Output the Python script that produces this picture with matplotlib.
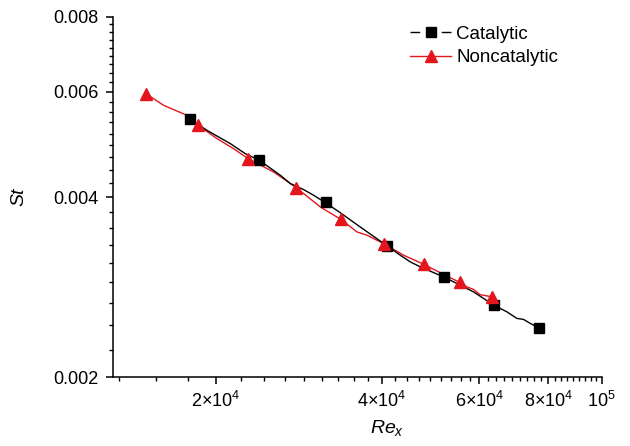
import matplotlib
matplotlib.use("Agg")
import matplotlib.pyplot as plt
from matplotlib.ticker import FixedLocator, MultipleLocator, NullFormatter
from matplotlib.lines import Line2D

plt.rcParams['font.family'] = ['Liberation Sans', 'DejaVu Sans']
plt.rcParams['mathtext.fontset'] = 'custom'
plt.rcParams['mathtext.rm'] = 'Liberation Sans'
plt.rcParams['mathtext.it'] = 'Liberation Sans:italic'
plt.rcParams['mathtext.default'] = 'regular'

# Catalytic wall: continuous profile and marked stations
cat_curve_re = [17970, 19260, 21230, 22600, 23960, 26160, 27270, 28820, 30050,
                31550, 33590, 36510, 40810, 43150, 44980, 46900, 51680, 54660,
                58580, 61070, 63670, 67330, 70200, 72150, 74210, 76950, 78450]
cat_curve_st = [0.005396, 0.005174, 0.004916, 0.004730, 0.004611, 0.004353,
                0.004216, 0.004120, 0.004031, 0.003920, 0.003769, 0.003568,
                0.003320, 0.003201, 0.003120, 0.003061, 0.002945, 0.002871,
                0.002780, 0.002711, 0.002642, 0.002575, 0.002510, 0.002501,
                0.002463, 0.002421, 0.002414]
cat_re = [17970, 23960, 31600, 40820, 51690, 63680, 76950]
cat_st = [0.005396, 0.004616, 0.003924, 0.003318, 0.002943, 0.002642, 0.002421]

# Noncatalytic wall: continuous profile and marked stations
noncat_curve_re = [14930, 16070, 17720, 18550, 20080, 21520, 22860, 25440, 27960,
                   30900, 33700, 36010, 37550, 40240, 43750, 47550, 50980, 55260,
                   56990, 58580, 60230, 63250]
noncat_curve_st = [0.005957, 0.005696, 0.005481, 0.005279, 0.005012, 0.004822,
                   0.004640, 0.004408, 0.004151, 0.003854, 0.003672, 0.003501,
                   0.003457, 0.003348, 0.003201, 0.003092, 0.002993, 0.002884,
                   0.002834, 0.002806, 0.002750, 0.002728]
noncat_re = [14930, 18550, 22860, 27960, 33700, 40240, 47550, 55260, 63250]
noncat_st = [0.005955, 0.005279, 0.004640, 0.004151, 0.003672, 0.003336,
             0.003089, 0.002884, 0.002728]

x_ticks = [2e4, 4e4, 6e4, 8e4, 1e5]
x_tick_labels = ['2×10$^4$', '4×10$^4$', '6×10$^4$', '8×10$^4$', '10$^5$']
y_ticks = [0.002, 0.004, 0.006, 0.008]
y_tick_labels = ['0.002', '0.004', '0.006', '0.008']

RED = '#e3161d'

fig = plt.figure(figsize=(6.3, 4.46), dpi=100)
ax = fig.add_axes([0.179, 0.1536, 0.776, 0.8083])

ax.plot(cat_curve_re, cat_curve_st, color='black', lw=1.0, zorder=3)
ax.plot(cat_re, cat_st, ls='none', marker='s', ms=6.8, color='black', zorder=4)
ax.plot(noncat_curve_re, noncat_curve_st, color=RED, lw=1.0, zorder=2)
ax.plot(noncat_re, noncat_st, ls='none', marker='^', ms=8.8, color=RED, zorder=5)

ax.set_xscale('log')
ax.set_yscale('log')
ax.set_xlim(1.30e4, 1e5)
ax.set_ylim(0.002, 0.008)

ax.xaxis.set_major_locator(FixedLocator(x_ticks))
ax.xaxis.set_minor_locator(MultipleLocator(2e4 / 9))
ax.set_xticklabels(x_tick_labels)
ax.xaxis.set_minor_formatter(NullFormatter())
ax.yaxis.set_major_locator(FixedLocator(y_ticks))
ax.yaxis.set_minor_locator(MultipleLocator(0.002 / 9))
ax.set_yticklabels(y_tick_labels)
ax.yaxis.set_minor_formatter(NullFormatter())

for side in ('top', 'right'):
    ax.spines[side].set_visible(False)
for side in ('left', 'bottom'):
    ax.spines[side].set_linewidth(1.1)

ax.tick_params(which='major', direction='out', length=5, width=1.1,
               labelsize=13, colors='black')
ax.tick_params(axis='y', which='major', pad=5)
ax.tick_params(axis='x', which='major', pad=5)
ax.tick_params(which='minor', direction='out', length=3, width=1.0)

ax.set_xlabel('$\\mathit{Re}_{\\mathit{x}}$', fontsize=14)
ax.xaxis.set_label_coords(0.561, -0.112)
ax.set_ylabel('St', fontsize=14, style='italic')
ax.yaxis.set_label_coords(-0.175, 0.5)

handles = [
    Line2D([], [], color='black', lw=1.0, ls=(0, (7.0, 15.5)), marker='s', ms=6.8),
    Line2D([], [], color=RED, lw=1.0, marker='^', ms=8.8),
]
fig.legend(handles, ['Catalytic', 'Noncatalytic'], loc='upper left',
           bbox_to_anchor=(0.651, 0.9425), frameon=False, fontsize=13.5,
           borderpad=0, borderaxespad=0, handlelength=2.2,
           handletextpad=0.25, labelspacing=0.33)

fig.savefig('out.png', dpi=100)
